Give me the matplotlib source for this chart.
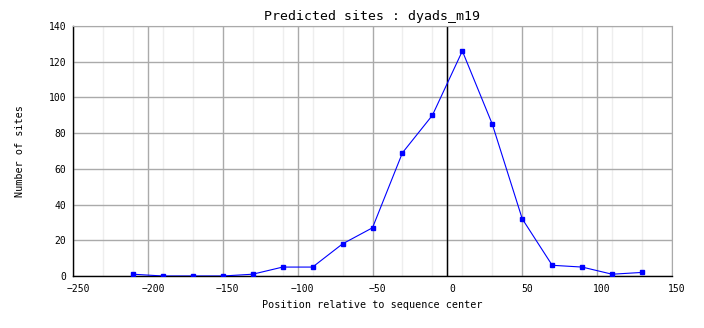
import matplotlib
matplotlib.use("Agg")
import matplotlib.transforms as mtransforms
from matplotlib import pyplot as plt
import numpy as np

# positions (bin centres) and counts
positions = [-210, -190, -170, -150, -130, -110, -90, -70, -50,
             -30, -10, 10, 30, 50, 70, 90, 110, 130]
sites = [1, 0, 0, 0, 1, 5, 5, 18, 27, 69, 90, 126, 85, 32, 6, 5, 1, 2]

x_major = np.arange(-250, 151, 50)
x_minor = np.arange(-230, 131, 20)
y_major = np.arange(0, 141, 20)

plt.rcParams["font.family"] = "DejaVu Sans Mono"

fig = plt.figure(figsize=(7.04, 3.28), dpi=100)
ax = fig.add_axes([73 / 704, 52 / 328, 599 / 704, 250 / 328])

ax.set_xlim(-250, 150)
ax.set_ylim(0, 140)
ax.set_xticks(x_major)
ax.set_xticks(x_minor, minor=True)
ax.set_yticks(y_major)

ax.grid(True, which="major", color="#aaaaaa", linewidth=1)
ax.grid(True, which="minor", axis="x", color="#eeeeee", linewidth=1)
ax.set_axisbelow(True)

ax.axvline(0, color="black", linewidth=1)
ax.plot(positions, sites, color="#0000ff", linewidth=0.8,
        marker="s", markersize=2.3, zorder=3)

for side in ["top", "right"]:
    ax.spines[side].set_color("#aaaaaa")
for side in ["left", "bottom"]:
    ax.spines[side].set_color("black")
    ax.spines[side].set_linewidth(1)

ax.tick_params(which="both", length=0, labelsize=7, colors="black")
ax.tick_params(axis="x", pad=6)
ax.tick_params(axis="y", pad=5)
offset = mtransforms.ScaledTranslation(5 / 100, 0, fig.dpi_scale_trans)
for lab in ax.get_xticklabels():
    lab.set_transform(lab.get_transform() + offset)

ax.set_title("Predicted sites : dyads_m19", fontsize=9.5, pad=4)
ax.set_xlabel("Position relative to sequence center", fontsize=7.3, labelpad=4)
ax.set_ylabel("Number of sites", fontsize=7.3, labelpad=17)

fig.savefig("out.png", dpi=100)
